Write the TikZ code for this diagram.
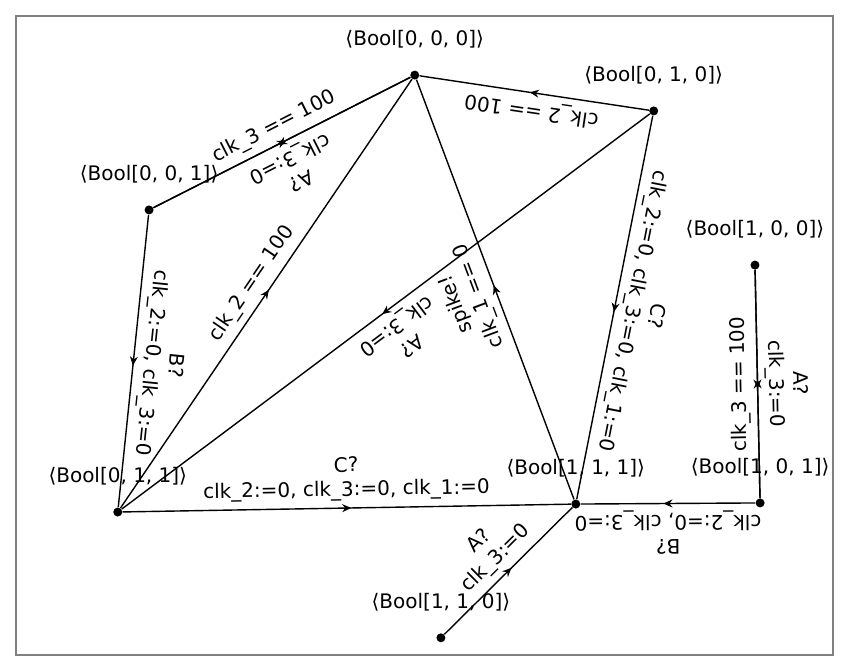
\documentclass[tikz,border=0pt]{standalone}
\usepackage{fontspec}
\setmainfont{DejaVu Sans}
\usetikzlibrary{arrows.meta,decorations.markings,positioning}

\begin{document}
\begin{tikzpicture}[
    state/.style={circle,fill=black,inner sep=0pt,minimum size=4.5pt},
    statename/.style={inner sep=3.33pt},
    trans/.style={line width=0.7pt,postaction={decorate},
      decoration={markings,
        mark=at position 0.5 with {\arrow[xshift=2.25pt]{Stealth[length=4.5pt,width=4pt]}}}},
    guard/.style={above,sloped,allow upside down,align=center,midway}
  ]
  \useasboundingbox (0,0) rectangle (14.94,11.79);
  \draw[gray,line width=1pt] (0.28,0.28) rectangle (14.64,11.51);

  % locations
  \node[state] (s000) at (7.29,10.47) {};
  \node[state] (s010) at (11.49,9.84) {};
  \node[state] (s001) at (2.62,8.10) {};
  \node[state] (s100) at (13.27,7.13) {};
  \node[state] (s011) at (2.07,2.79) {};
  \node[state] (s111) at (10.12,2.93) {};
  \node[state] (s101) at (13.36,2.95) {};
  \node[state] (s110) at (7.75,0.58) {};

  \node[statename,above=7.5pt of s000] (n000) {⟨Bool[0, 0, 0]⟩};
  \node[statename,above=7.5pt of s010] (n010) {⟨Bool[0, 1, 0]⟩};
  \node[statename,above=7.5pt of s001] (n001) {⟨Bool[0, 0, 1]⟩};
  \node[statename,above=7.5pt of s100] (n100) {⟨Bool[1, 0, 0]⟩};
  \node[statename,above=7.5pt of s011] (n011) {⟨Bool[0, 1, 1]⟩};
  \node[statename,above=7.5pt of s111] (n111) {⟨Bool[1, 1, 1]⟩};
  \node[statename,above=7.5pt of s101] (n101) {⟨Bool[1, 0, 1]⟩};
  \node[statename,above=7.5pt of s110] (n110) {⟨Bool[1, 1, 0]⟩};

  % transitions
  \draw[trans] (s001) -- node[guard] (g1) {clk\_3 == 100} (s000);
  \draw[trans] (s000) -- node[guard] (g2) {A?\\clk\_3:=0} (s001);
  \draw[trans] (s010) -- node[guard] (g3) {clk\_2 == 100} (s000);
  \draw[trans] (s010) -- node[guard] (g4) {C?\\clk\_2:=0, clk\_3:=0, clk\_1:=0} (s111);
  \draw[trans] (s010) -- node[guard] (g5) {A?\\clk\_3:=0} (s011);
  \draw[trans] (s111) -- node[guard] (g6) {spike!\\clk\_1 == 0} (s000);
  \draw[trans] (s011) -- node[guard] (g7) {clk\_2 == 100} (s000);
  \draw[trans] (s001) -- node[guard] (g8) {B?\\clk\_2:=0, clk\_3:=0} (s011);
  \draw[trans] (s011) -- node[guard] (g9) {C?\\clk\_2:=0, clk\_3:=0, clk\_1:=0} (s111);
  \draw[trans] (s101) -- node[guard] (g10) {B?\\clk\_2:=0, clk\_3:=0} (s111);
  \draw[trans] (s110) -- node[guard] (g11) {A?\\clk\_3:=0} (s111);
  \draw[trans] (s101) -- node[guard] (g12) {clk\_3 == 100} (s100);
  \draw[trans] (s100) -- node[guard] (g13) {A?\\clk\_3:=0} (s101);
\end{tikzpicture}
\end{document}
